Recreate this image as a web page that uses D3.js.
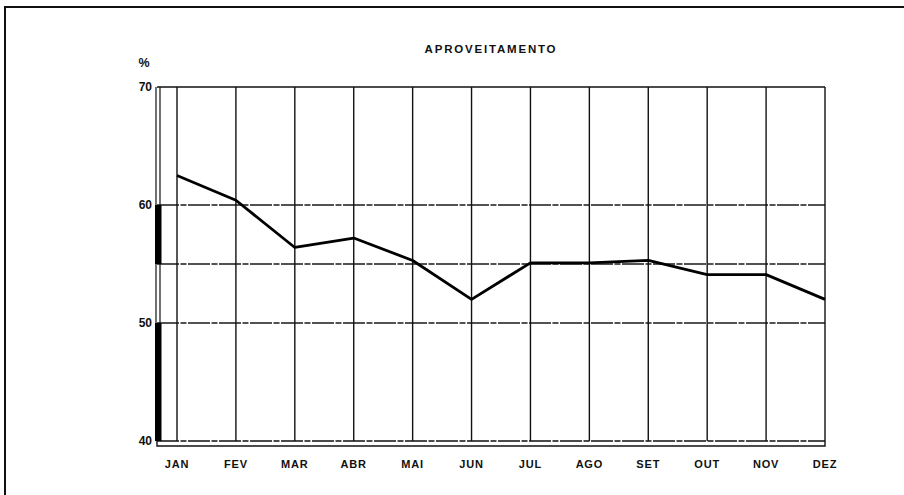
<!DOCTYPE html>
<html>
<head>
<meta charset="utf-8">
<script src="https://cdn.jsdelivr.net/npm/d3@7"></script>
<style>
  body { margin: 0; background: #fff; }
  svg { display: block; }
  text { font-family: "Liberation Sans", Arial, sans-serif; fill: #111; font-weight: bold; }
</style>
</head>
<body>
<div class="chart"></div>
<script>
// chart data
var months = ["JAN", "FEV", "MAR", "ABR", "MAI", "JUN", "JUL", "AGO", "SET", "OUT", "NOV", "DEZ"];
var aproveitamento = [62.5, 60.4, 56.4, 57.2, 55.3, 52.0, 55.1, 55.1, 55.3, 54.1, 54.1, 52.0];
var yTicks = [40, 50, 60, 70];
var yGrid = [50, 55, 60];
var thickBands = [[55, 60], [40, 50]];

var svgWidth = 904, svgHeight = 495;

var svg = d3.select(".chart")
  .append("svg")
  .attr("width", svgWidth)
  .attr("height", svgHeight);

// outer frame (only top and left visible)
svg.append("path")
  .attr("d", "M5,500 L5,7 L910,7")
  .attr("fill", "none")
  .attr("stroke", "#111")
  .attr("stroke-width", 2);

var x = d3.scalePoint()
  .domain(months)
  .range([177, 825]);

var y = d3.scaleLinear()
  .domain([40, 70])
  .range([441, 87]);

var plotLeft = 157, plotRight = 825;

// horizontal gridlines
svg.append("g").selectAll("line")
  .data(yGrid)
  .enter()
  .append("line")
  .attr("x1", plotLeft)
  .attr("x2", plotRight)
  .attr("y1", d => y(d))
  .attr("y2", d => y(d))
  .attr("stroke", "#1a1a1a")
  .attr("stroke-width", 1.3)
  .attr("stroke-dasharray", "22,1.5,6,1.5");

// vertical gridlines, one per month
svg.append("g").selectAll("line")
  .data(months)
  .enter()
  .append("line")
  .attr("x1", d => x(d))
  .attr("x2", d => x(d))
  .attr("y1", y(70))
  .attr("y2", y(40))
  .attr("stroke", "#111")
  .attr("stroke-width", 1.4);

// frame top and bottom
svg.append("line")
  .attr("x1", plotLeft).attr("x2", plotRight)
  .attr("y1", y(70)).attr("y2", y(70))
  .attr("stroke", "#111").attr("stroke-width", 1.4);
svg.append("line")
  .attr("x1", plotLeft).attr("x2", plotRight)
  .attr("y1", y(40)).attr("y2", y(40))
  .attr("stroke", "#111").attr("stroke-width", 1.4)
  .attr("stroke-dasharray", "22,1.5,6,1.5");
svg.append("path")
  .attr("d", `M${plotLeft},${y(40)} L${plotLeft},${y(40) + 5} L${plotRight},${y(40) + 5} L${plotRight},${y(40)}`)
  .attr("fill", "none")
  .attr("stroke", "#111").attr("stroke-width", 1.4);

// left axis: double line with thick bands
[156, 160].forEach(function (xx) {
  svg.append("line")
    .attr("x1", xx).attr("x2", xx)
    .attr("y1", y(70)).attr("y2", y(40))
    .attr("stroke", "#111").attr("stroke-width", 1.2);
});
svg.append("g").selectAll("rect")
  .data(thickBands)
  .enter()
  .append("rect")
  .attr("x", 155)
  .attr("width", 6.5)
  .attr("y", d => y(d[1]))
  .attr("height", d => y(d[0]) - y(d[1]))
  .attr("fill", "#000");

// y tick labels
svg.append("g").selectAll("text")
  .data(yTicks)
  .enter()
  .append("text")
  .attr("x", 152)
  .attr("y", d => y(d) + 4)
  .attr("text-anchor", "end")
  .attr("font-size", "12px")
  .text(d => d);

svg.append("text")
  .attr("x", 144)
  .attr("y", 67)
  .attr("text-anchor", "middle")
  .attr("font-size", "12.5px")
  .text("%");

// month labels
svg.append("g").selectAll("text")
  .data(months)
  .enter()
  .append("text")
  .attr("x", d => x(d))
  .attr("y", 468)
  .attr("text-anchor", "middle")
  .attr("font-size", "11px")
  .attr("letter-spacing", "0.8px")
  .text(d => d);

// title
svg.append("text")
  .attr("x", 491)
  .attr("y", 53)
  .attr("text-anchor", "middle")
  .attr("font-size", "11.5px")
  .attr("letter-spacing", "1.8px")
  .text("APROVEITAMENTO");

// data line
var line = d3.line()
  .x((d, i) => x(months[i]))
  .y(d => y(d));

svg.append("path")
  .datum(aproveitamento)
  .attr("d", line)
  .attr("fill", "none")
  .attr("stroke", "#000")
  .attr("stroke-width", 2.8)
  .attr("stroke-linejoin", "round");
</script>
</body>
</html>
